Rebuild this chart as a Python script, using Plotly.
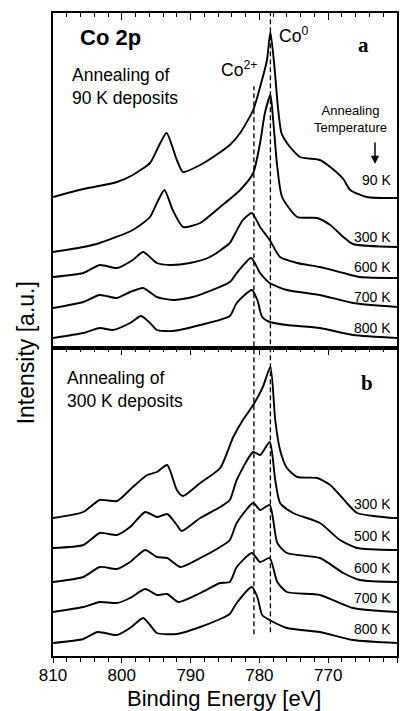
import plotly.graph_objects as go

# ---------------- data (binding energy in eV, intensity in a.u., offset-stacked) ----------------
# Panel a: annealing of 90 K deposits
E_a90 = [810.0, 805.6, 800.7, 798.4, 795.9, 794.9, 793.5, 792.0, 791.1, 788.6, 786.5, 784.3, 782.8, 780.9,
         779.9, 778.9, 778.4, 777.8, 777.3, 776.8, 776.0, 774.1, 771.2, 769.7, 767.8, 766.8, 764.4, 760.0]
I_a90 = [151, 159, 166, 173, 185, 198, 215, 188, 176, 183, 192, 203, 215, 238,
         261, 288, 316, 280, 240, 215, 205, 191, 188, 181, 169, 158, 151, 150]

E_a300 = [810.0, 805.6, 803.2, 798.4, 795.9, 794.9, 793.8, 792.6, 791.1, 788.6, 785.7, 782.8, 780.9, 779.9,
          779.2, 778.4, 778.0, 777.4, 776.7, 774.5, 771.6, 769.7, 767.8, 766.4, 760.0]
I_a300 = [96, 101, 105, 118, 131, 145, 158, 138, 121, 125, 141, 158, 175, 205,
          235, 253, 228, 181, 151, 131, 130, 123, 111, 104, 101]

E_a600 = [810.0, 805.6, 803.2, 800.7, 798.4, 796.9, 794.9, 793.0, 790.1, 787.2, 784.3, 783.8, 782.4, 781.1,
          779.9, 778.5, 777.0, 774.5, 771.2, 767.8, 765.4, 760.0]
I_a600 = [71, 75, 83, 80, 88, 96, 85, 83, 85, 91, 105, 111, 128, 135,
          121, 108, 91, 85, 81, 75, 71, 70]

E_a700 = [810.0, 805.6, 803.2, 800.7, 798.8, 796.9, 794.9, 792.6, 789.7, 784.3, 783.3, 781.2, 779.9, 778.5,
          776.0, 771.2, 766.4, 760.0]
I_a700 = [40, 46, 53, 50, 56, 60, 51, 48, 51, 66, 75, 90, 75, 65,
          58, 53, 45, 41]

E_a800 = [810.0, 805.6, 803.2, 801.3, 798.8, 797.2, 795.9, 794.9, 792.6, 788.6, 784.3, 783.3, 781.1, 780.3,
          779.6, 778.5, 776.0, 771.2, 766.4, 760.0]
I_a800 = [10, 15, 20, 18, 25, 32, 25, 18, 17, 23, 32, 45, 58, 48,
          31, 26, 23, 20, 13, 10]

# Panel b: annealing of 300 K deposits
E_b300 = [810.0, 805.6, 803.2, 800.7, 798.4, 796.3, 794.9, 793.4, 792.0, 791.1, 788.6, 785.7, 783.8, 782.4,
          780.9, 779.5, 778.4, 777.7, 777.0, 776.0, 774.5, 771.6, 769.7, 767.3, 765.8, 760.6, 760.0]
I_b300 = [138, 144, 156, 155, 169, 181, 184, 191, 166, 160, 173, 188, 219, 236,
          251, 269, 289, 236, 206, 188, 179, 178, 171, 153, 143, 138, 138]

E_b500 = [810.0, 805.6, 803.2, 800.7, 798.8, 796.6, 794.9, 793.4, 792.0, 791.3, 788.6, 785.7, 784.3, 783.3,
          780.9, 779.9, 778.5, 777.7, 777.0, 775.1, 771.2, 768.3, 765.8, 760.0]
I_b500 = [108, 111, 123, 121, 129, 144, 139, 142, 131, 125, 138, 149, 156, 176,
          204, 201, 214, 176, 153, 143, 133, 116, 108, 106]

E_b600 = [810.0, 805.6, 803.2, 800.7, 798.8, 796.6, 794.9, 793.4, 791.5, 788.6, 785.7, 784.3, 783.3, 780.9,
          779.9, 778.5, 777.4, 776.0, 771.2, 767.8, 765.4, 760.0]
I_b600 = [74, 79, 89, 87, 94, 106, 99, 98, 89, 98, 109, 116, 133, 153,
          146, 151, 113, 103, 98, 83, 76, 74]

E_b700 = [810.0, 805.6, 803.2, 800.7, 798.8, 796.6, 794.9, 793.4, 791.8, 788.6, 785.7, 784.3, 783.3, 781.1,
          779.9, 778.5, 777.4, 776.0, 771.2, 766.4, 760.0]
I_b700 = [44, 49, 54, 53, 58, 67, 61, 62, 54, 63, 73, 74, 89, 103,
          94, 98, 74, 64, 61, 48, 44]

E_b800 = [810.0, 805.6, 803.5, 800.7, 798.8, 796.9, 795.9, 794.9, 792.0, 788.6, 785.7, 784.3, 783.3, 781.1,
          780.3, 779.6, 778.5, 776.0, 771.2, 766.4, 760.0]
I_b800 = [13, 17, 24, 21, 28, 38, 31, 23, 22, 29, 37, 42, 53, 69,
          59, 41, 36, 28, 24, 16, 13]

labels_a = ["90 K", "300 K", "600 K", "700 K", "800 K"]
labels_b = ["300 K", "500 K", "600 K", "700 K", "800 K"]
E_co2 = 780.8   # Co2+ reference energy
E_co0 = 778.4   # Co0 reference energy
x_ticks = [810, 800, 790, 780, 770, 760]

# ---------------- figure ----------------
FONT = "Liberation Sans, Arial, sans-serif"
SERIF = "Liberation Serif, Times New Roman, serif"
LW = 1.9

series_a = [(E_a90, I_a90), (E_a300, I_a300), (E_a600, I_a600), (E_a700, I_a700), (E_a800, I_a800)]
series_b = [(E_b300, I_b300), (E_b500, I_b500), (E_b600, I_b600), (E_b700, I_b700), (E_b800, I_b800)]

line_style = dict(color="black", width=LW, shape="spline", smoothing=0.6)

fig = go.Figure()
for (e, i), lab in zip(series_a, labels_a):
    fig.add_trace(go.Scatter(x=e, y=i, mode="lines", line=line_style,
                             name=lab, xaxis="x", yaxis="y", showlegend=False))
for k, ((e, i), lab) in enumerate(zip(series_b, labels_b)):
    fig.add_trace(go.Scatter(x=e, y=i, mode="lines", line=line_style,
                             name=lab, xaxis="x3" if k == len(series_b) - 1 else "x2",
                             yaxis="y2", showlegend=False))

RANGE_X = [810, 760]
split = 0.479
common_ax = dict(range=RANGE_X, showgrid=False, zeroline=False, tickcolor="black",
                 tickvals=x_ticks, linecolor="black", linewidth=1.6, tickwidth=1.3)

fig.update_layout(
    width=411, height=711,
    margin=dict(l=53, r=14, t=13, b=55),
    paper_bgcolor="white", plot_bgcolor="white",
    font=dict(family=FONT, color="black"),
    xaxis=dict(**common_ax, domain=[0, 1], anchor="y", side="top", showline=True, mirror=True,
               ticks="inside", ticklen=7, showticklabels=False,
               minor=dict(dtick=2, tick0=760, ticks="inside", ticklen=4, tickcolor="black", tickwidth=1.2, showgrid=False)),
    yaxis=dict(domain=[split, 1], anchor="x", range=[0, 335], showline=True, mirror=True,
               linecolor="black", linewidth=1.6, ticks="", showticklabels=False,
               showgrid=False, zeroline=False),
    xaxis2=dict(**common_ax, domain=[0, 1], anchor="y2", side="bottom", showline=True, mirror=True,
                ticks="outside", ticklen=5, showticklabels=True, ticklabelstandoff=-2,
                tickfont=dict(size=17, family=FONT, color="black"),
                minor=dict(dtick=2, tick0=760, ticks="outside", ticklen=4, tickcolor="black", tickwidth=1.2, showgrid=False)),
    xaxis3=dict(**common_ax, overlaying="x2", anchor="y2", side="top", showline=False,
                ticks="inside", ticklen=7, showticklabels=False,
                minor=dict(dtick=2, tick0=760, ticks="inside", ticklen=4, tickcolor="black", tickwidth=1.2, showgrid=False)),
    yaxis2=dict(domain=[0, split], anchor="x2", range=[0, 308], showline=True, mirror=True,
                linecolor="black", linewidth=1.6, ticks="", showticklabels=False,
                showgrid=False, zeroline=False),
)

# dashed reference lines across both panels
fig.add_shape(type="line", xref="x2", yref="paper", x0=E_co2, x1=E_co2, y0=0.034, y1=0.886,
              line=dict(color="black", width=1.3, dash="5px,3px"))
fig.add_shape(type="line", xref="x2", yref="paper", x0=E_co0, x1=E_co0, y0=0.037, y1=1.0,
              line=dict(color="black", width=1.3, dash="5px,3px"))

ann = []
def txt(text, x, y, xref, yref, size, xanchor="center", yanchor="middle", family=FONT, align="center"):
    ann.append(dict(text=text, x=x, y=y, xref=xref, yref=yref, showarrow=False,
                    xanchor=xanchor, yanchor=yanchor, align=align,
                    font=dict(size=size, family=family, color="black")))

# panel a texts
txt("<b>Co 2p</b>", 806.4, 311, "x", "y", 22, xanchor="left")
txt("Annealing of<br>90 K deposits", 807.5, 262, "x", "y", 17.5, xanchor="left", align="left")
txt("Co<sup>2+</sup>", 780.1, 279, "x", "y", 17.5, xanchor="right")
txt("Co<sup>0</sup>", 777.4, 313, "x", "y", 17.5, xanchor="left")
txt("<b>a</b>", 764.9, 303, "x", "y", 21, family=SERIF)
txt("Annealing<br>Temperature", 766.8, 229.5, "x", "y", 13)
ann.append(dict(text="", x=763.2, y=184, xref="x", yref="y", showarrow=True, ax=0, ay=-23,
                arrowhead=2, arrowsize=1.1, arrowwidth=1.5, arrowcolor="black"))
offs_a = [18, 10, 11, 10, 10]
for (e, i), lab, o in zip(series_a, labels_a, offs_a):
    txt(lab, 760.6, i[-1] + o, "x", "y", 14, xanchor="right")

# panel b texts
txt("Annealing of<br>300 K deposits", 808.3, 267, "x2", "y2", 17.5, xanchor="left", align="left")
txt("<b>b</b>", 764.4, 273, "x2", "y2", 21, family=SERIF)
for (e, i), lab in zip(series_b, labels_b):
    txt(lab, 760.6, i[-1] + 14, "x2", "y2", 14, xanchor="right")

# axis titles
txt("Binding Energy [eV]", 0.497, -0.0885, "paper", "paper", 22, yanchor="bottom")
ann.append(dict(text="Intensity [a.u.]", x=-0.078, y=0.471, xref="paper", yref="paper",
                showarrow=False, textangle=-90, xanchor="center", yanchor="middle",
                font=dict(size=23, family=FONT, color="black")))

fig.update_layout(annotations=ann)
fig.write_html("out.html")
